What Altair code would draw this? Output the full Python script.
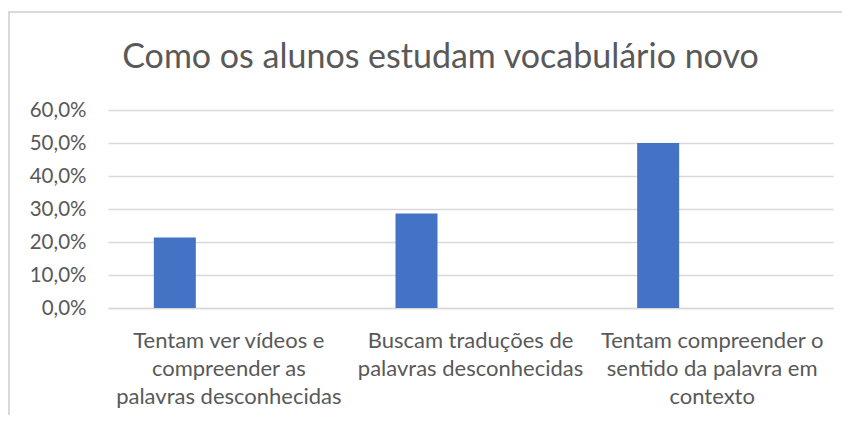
import altair as alt
import pandas as pd
import json

categories = [
    "Tentam ver vídeos e compreender as palavras desconhecidas",
    "Buscam traduções de palavras desconhecidas",
    "Tentam compreender o sentido da palavra em contexto",
]
label_lines = [
    ["Tentam ver vídeos e", "compreender as", "palavras desconhecidas"],
    ["Buscam traduções de", "palavras desconhecidas"],
    ["Tentam compreender o", "sentido da palavra em", "contexto"],
]
values = [0.214, 0.286, 0.500]
y_ticks = [0, 0.1, 0.2, 0.3, 0.4, 0.5, 0.6]
title = "Como os alunos estudam vocabulário novo"

df = pd.DataFrame({"cat": categories, "val": values})
mapping = json.dumps(dict(zip(categories, label_lines)), ensure_ascii=False)

FONT = "Lato"
GREY = "#595959"

bars = alt.Chart(df).mark_bar(color="#4472C4", width=42, xOffset=-54).encode(
    x=alt.X(
        "cat:N",
        sort=categories,
        title=None,
        scale=alt.Scale(paddingInner=0, paddingOuter=0),
        axis=alt.Axis(
            labelAngle=0,
            labelExpr=f"{mapping}[datum.value]",
            labelFont=FONT,
            labelFontSize=22,
            labelColor=GREY,
            labelLineHeight=28,
            labelPadding=22,
            ticks=False,
            domainColor="#d9d9d9",
            domainWidth=1.5,
            labelLimit=400,
        ),
    ),
    y=alt.Y(
        "val:Q",
        title=None,
        scale=alt.Scale(domain=[0, 0.6], nice=False),
        axis=alt.Axis(
            values=y_ticks,
            labelExpr="replace(format(datum.value, '.1%'), '.', ',')",
            labelFont=FONT,
            labelFontSize=20.5,
            labelColor=GREY,
            labelPadding=22,
            ticks=False,
            domain=False,
            gridColor="#d9d9d9",
            gridWidth=1.5,
        ),
    ),
)

frame_top = alt.Chart(df).mark_rule(color="#d9d9d9", strokeWidth=1.5).encode(
    x=alt.value(-100), x2=alt.value(742), y=alt.value(-98)
)
frame_left = alt.Chart(df).mark_rule(color="#d9d9d9", strokeWidth=1.5).encode(
    x=alt.value(-99), y=alt.value(-98), y2=alt.value(310)
)

chart = alt.layer(frame_top, frame_left, bars).properties(
    width=725,
    height=198,
    title=alt.TitleParams(
        title,
        font=FONT,
        fontSize=34,
        fontWeight="normal",
        color=GREY,
        anchor="middle",
        offset=-64,
        dx=-30,
    ),
    padding={"left": 100, "top": 102, "right": 9, "bottom": 107},
    autosize=alt.AutoSizeParams(type="none"),
).configure_view(stroke=None)

chart.save("out.html", embed_options={"renderer": "svg", "actions": False})
